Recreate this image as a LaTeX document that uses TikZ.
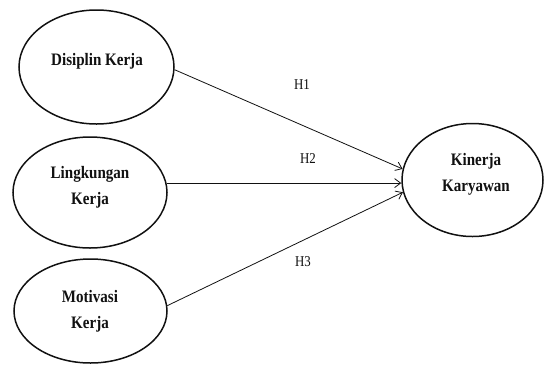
\documentclass[tikz,border=0pt]{standalone}
\usepackage{fontspec}
\setmainfont{Liberation Serif}
\newfontfamily\condserif{Liberation Serif}[FakeStretch=0.86]
\usepackage{tikz}
\usetikzlibrary{arrows.meta,positioning,shapes.geometric}
\definecolor{pathInk}{HTML}{111111}
\tikzset{
    >={Straight Barb[length=6pt,width=9pt]},
    construct/.style={ellipse, draw=pathInk, line width=1.5pt, inner sep=0pt},
    cname/.style={align=center, text=pathInk, font=\condserif\fontsize{17.5}{26}\selectfont\bfseries},
    hyp/.style={text=pathInk, font=\condserif\fontsize{15}{17}\selectfont},
    linkarrow/.style={->, line width=0.8pt, draw=pathInk}
}
\begin{document}
\begin{tikzpicture}[x=1pt,y=-1pt]
\useasboundingbox[fill=white] (0,0) rectangle (544,365);
\node[construct, minimum width=155pt, minimum height=114pt] (disiplin) at (96.5,67) {};
\node[construct, minimum width=154pt, minimum height=111pt] (lingkungan) at (90,192.5) {};
\node[construct, minimum width=153pt, minimum height=104pt] (motivasi) at (90.5,311) {};
\node[construct, minimum width=141pt, minimum height=113pt] (kinerja) at (472.5,180) {};
\node[cname] (disiplinT) at (97,61) {Disiplin Kerja};
\node[cname] (lingkunganT) at (90,187) {Lingkungan\\Kerja};
\node[cname] (motivasiT) at (90,311) {Motivasi\\Kerja};
\node[cname] (kinerjaT) at (476,174) {Kinerja\\Karyawan};
\draw[linkarrow] (disiplin.358) -- (kinerja.171);
\draw[linkarrow] (lingkungan.7) -- (lingkungan.7 -| kinerja.west);
\draw[linkarrow] (motivasi.4.5) -- (kinerja.190.5);
\node[hyp] (h1) at (302,85) {H1};
\node[hyp] (h2) at (308,159) {H2};
\node[hyp] (h3) at (303,262) {H3};
\end{tikzpicture}
\end{document}
